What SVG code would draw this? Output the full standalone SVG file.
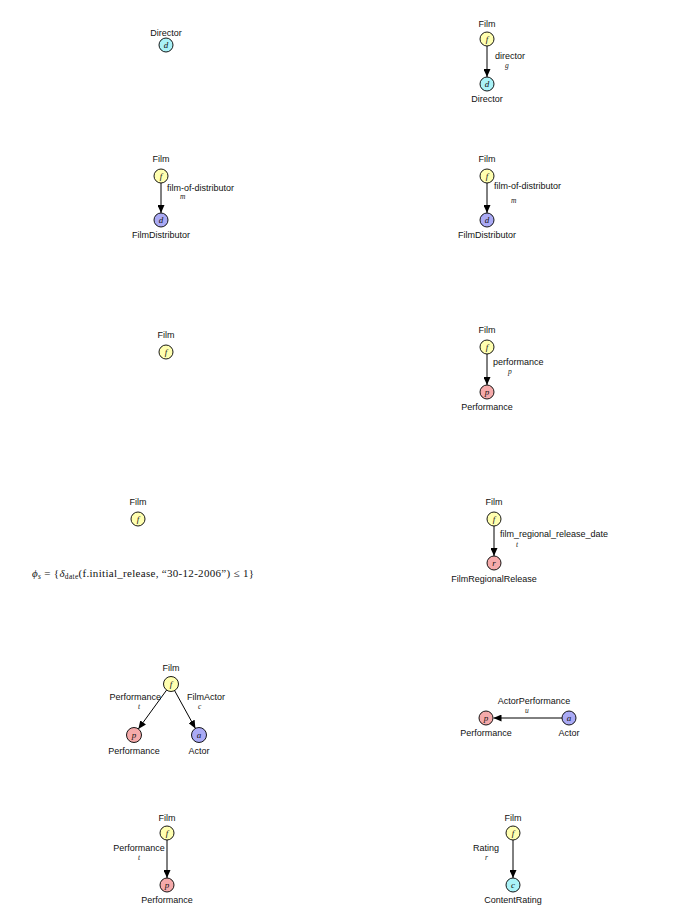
<svg xmlns="http://www.w3.org/2000/svg" width="691" height="920" viewBox="0 0 691 920">
<style>
.lbl{font-family:"Liberation Sans",Arial,sans-serif;font-size:9px;fill:#111}
.m{text-anchor:middle}
.e{text-anchor:end}
.v{font-family:"Liberation Serif","Times New Roman",serif;font-style:italic;font-size:9px;text-anchor:middle;fill:#111}
.s{font-family:"Liberation Serif","Times New Roman",serif;font-style:italic;font-size:7.5px;fill:#222}
.n{stroke:#000;stroke-width:0.9}
.y{fill:#ffffb0}
.c{fill:#aaf2f7}
.b{fill:#aaaaf5}
.p{fill:#f5aaaa}
.ed{stroke:#000;stroke-width:1;fill:none;marker-end:url(#ah)}
.f{font-family:"Liberation Serif","Times New Roman",serif;font-size:11px;letter-spacing:0.3px;fill:#111}
</style>
<defs>
<marker id="ah" markerUnits="userSpaceOnUse" markerWidth="8" markerHeight="7" refX="8" refY="3.5" orient="auto">
<path d="M0,0 L8,3.5 L0,7 z" fill="#000"/>
</marker>
</defs>
<rect width="691" height="920" fill="#fff"/>

<g id="connectors">
<line class="ed" x1="487" y1="46" x2="487" y2="77"/>
<line class="ed" x1="161" y1="183" x2="161" y2="213"/>
<line class="ed" x1="487" y1="183" x2="487" y2="213"/>
<line class="ed" x1="487" y1="354" x2="487" y2="385"/>
<line class="ed" x1="494" y1="526" x2="494" y2="556"/>
<line class="ed" x1="166.6" y1="690.1" x2="138.4" y2="728.9"/>
<line class="ed" x1="174.6" y1="690.6" x2="195.4" y2="728.4"/>
<line class="ed" x1="562" y1="718" x2="493.5" y2="718"/>
<line class="ed" x1="167" y1="840" x2="167" y2="878"/>
<line class="ed" x1="513" y1="840" x2="513" y2="878"/>
</g>

<g id="edge-labels">
<text class="lbl" x="495" y="59">director</text><text class="s" x="505" y="68">g</text>
<text class="lbl" x="167" y="191">film-of-distributor</text><text class="s" x="180" y="199">m</text>
<text class="lbl" x="494" y="189">film-of-distributor</text><text class="s" x="511" y="203">m</text>
<text class="lbl" x="493" y="365">performance</text><text class="s" x="508" y="374">p</text>
<text class="lbl" x="500" y="537">film_regional_release_date</text><text class="s" x="516" y="547">t</text>
<text class="lbl e" x="161" y="700">Performance</text><text class="s" x="138" y="709">t</text>
<text class="lbl" x="187" y="700">FilmActor</text><text class="s" x="198" y="709">c</text>
<text class="lbl m" x="534" y="704">ActorPerformance</text><text class="s" x="525" y="713">u</text>
<text class="lbl m" x="139" y="851">Performance</text><text class="s" x="138" y="860">t</text>
<text class="lbl m" x="486" y="851">Rating</text><text class="s" x="485" y="860">r</text>
</g>

<g id="p1-director">
<text class="lbl m" x="166" y="36">Director</text>
<circle class="n c" cx="166" cy="45" r="7"/><text class="v" x="166" y="48">d</text>
</g>

<g id="p2-film"><text class="lbl m" x="487" y="27">Film</text><circle class="n y" cx="487" cy="39" r="7"/><text class="v" x="487" y="42">f</text></g>
<g id="p2-director"><circle class="n c" cx="487" cy="84" r="7"/><text class="v" x="487" y="87">d</text><text class="lbl m" x="487" y="102">Director</text></g>

<g id="p3-film"><text class="lbl m" x="161" y="162">Film</text><circle class="n y" cx="161" cy="176" r="7"/><text class="v" x="161" y="179">f</text></g>
<g id="p3-distributor"><circle class="n b" cx="161" cy="220" r="7"/><text class="v" x="161" y="223">d</text><text class="lbl m" x="161" y="238">FilmDistributor</text></g>

<g id="p4-film"><text class="lbl m" x="487" y="162">Film</text><circle class="n y" cx="487" cy="176" r="7"/><text class="v" x="487" y="179">f</text></g>
<g id="p4-distributor"><circle class="n b" cx="487" cy="220" r="7"/><text class="v" x="487" y="223">d</text><text class="lbl m" x="487" y="238">FilmDistributor</text></g>

<g id="p5-film"><text class="lbl m" x="166" y="338">Film</text><circle class="n y" cx="166" cy="352" r="7"/><text class="v" x="166" y="355">f</text></g>

<g id="p6-film"><text class="lbl m" x="487" y="333">Film</text><circle class="n y" cx="487" cy="347" r="7"/><text class="v" x="487" y="350">f</text></g>
<g id="p6-performance"><circle class="n p" cx="487" cy="392" r="7"/><text class="v" x="487" y="395">p</text><text class="lbl m" x="487" y="410">Performance</text></g>

<g id="p7-film"><text class="lbl m" x="138" y="505">Film</text><circle class="n y" cx="138" cy="519" r="7"/><text class="v" x="138" y="522">f</text></g>
<g id="p7-formula">
<text class="f" x="32" y="577"><tspan font-style="italic">ϕ</tspan><tspan font-size="7.5px" font-style="italic" dy="2">s</tspan><tspan dy="-2"> = {</tspan><tspan font-style="italic">δ</tspan><tspan font-size="7.5px" dy="2">date</tspan><tspan dy="-2">(f.initial_release, “30-12-2006”) ≤ 1}</tspan></text>
</g>

<g id="p8-film"><text class="lbl m" x="494" y="505">Film</text><circle class="n y" cx="494" cy="519" r="7"/><text class="v" x="494" y="522">f</text></g>
<g id="p8-release"><circle class="n p" cx="494" cy="563" r="7"/><text class="v" x="494" y="566">r</text><text class="lbl m" x="494" y="582">FilmRegionalRelease</text></g>

<g id="p9-film"><text class="lbl m" x="171" y="671">Film</text><circle class="n y" cx="171" cy="684" r="7.5"/><text class="v" x="171" y="687">f</text></g>
<g id="p9-performance"><circle class="n p" cx="134" cy="735" r="7.5"/><text class="v" x="134" y="738">p</text><text class="lbl m" x="134" y="754">Performance</text></g>
<g id="p9-actor"><circle class="n b" cx="199" cy="735" r="7.5"/><text class="v" x="199" y="738">a</text><text class="lbl m" x="199" y="754">Actor</text></g>

<g id="p10-performance"><circle class="n p" cx="486" cy="718" r="7"/><text class="v" x="486" y="721">p</text><text class="lbl m" x="486" y="736">Performance</text></g>
<g id="p10-actor"><circle class="n b" cx="569" cy="718" r="7"/><text class="v" x="569" y="721">a</text><text class="lbl m" x="569" y="736">Actor</text></g>

<g id="p11-film"><text class="lbl m" x="167" y="821">Film</text><circle class="n y" cx="167" cy="833" r="7"/><text class="v" x="167" y="836">f</text></g>
<g id="p11-performance"><circle class="n p" cx="167" cy="885" r="7"/><text class="v" x="167" y="888">p</text><text class="lbl m" x="167" y="903">Performance</text></g>

<g id="p12-film"><text class="lbl m" x="513" y="821">Film</text><circle class="n y" cx="513" cy="833" r="7"/><text class="v" x="513" y="836">f</text></g>
<g id="p12-rating"><circle class="n c" cx="513" cy="885" r="7"/><text class="v" x="513" y="888">c</text><text class="lbl m" x="513" y="903">ContentRating</text></g>
</svg>
